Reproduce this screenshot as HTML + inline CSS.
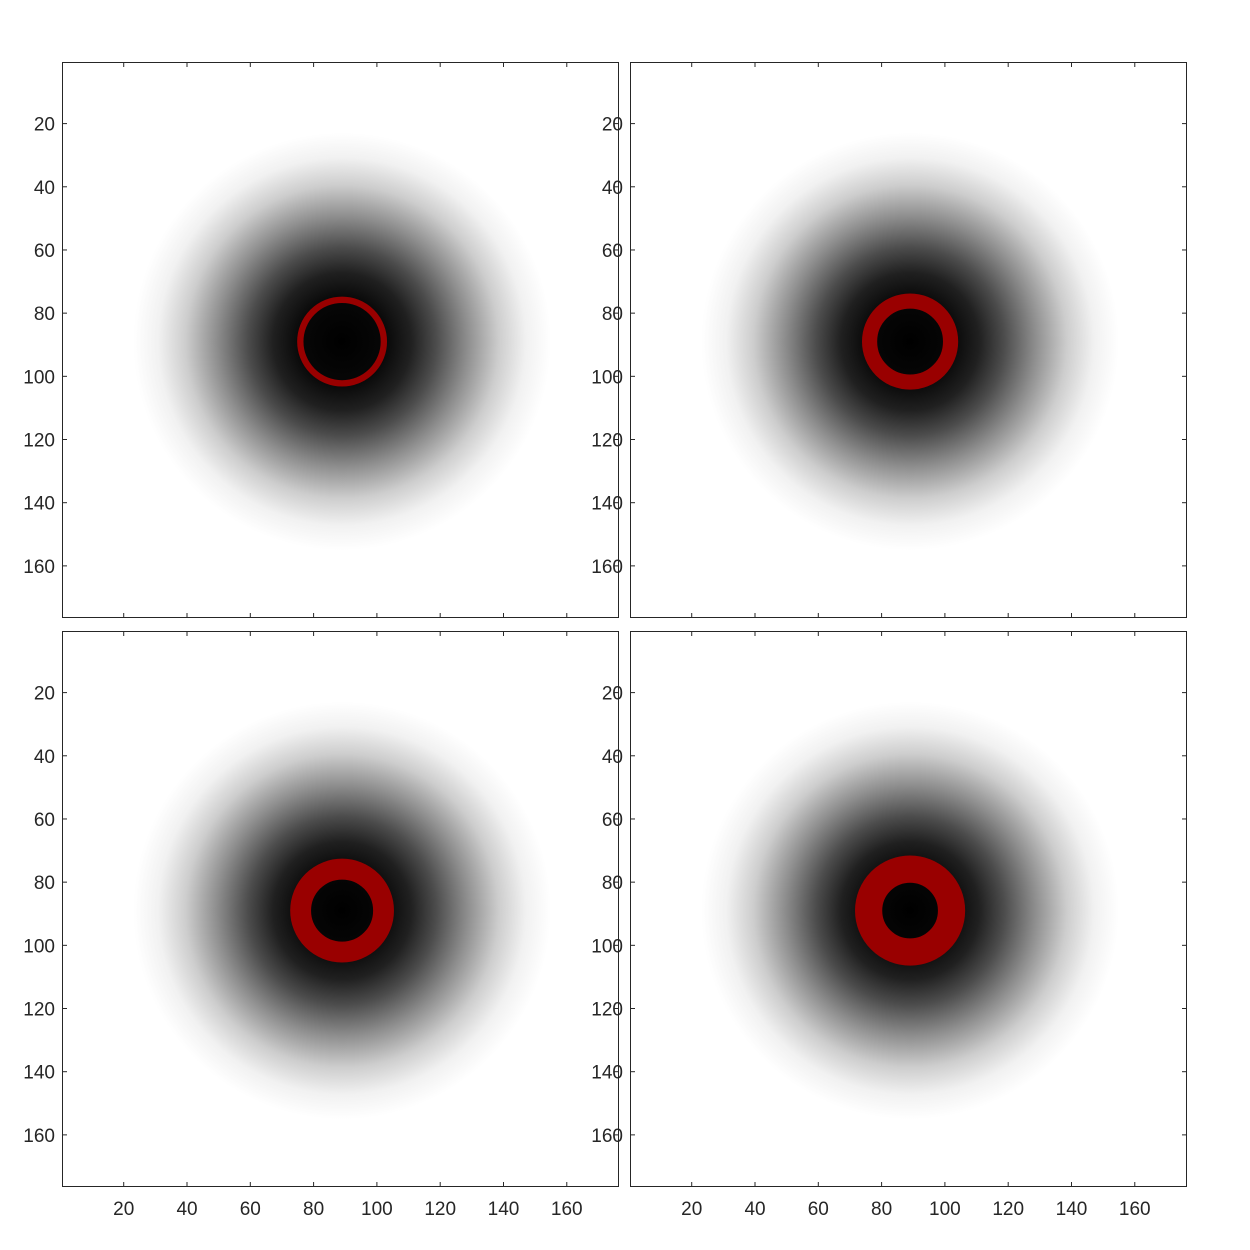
<!DOCTYPE html>
<html><head><meta charset="utf-8"><style>
html,body{margin:0;padding:0;background:#fff;}
svg{display:block;}
text{font-family:"Liberation Sans",sans-serif;font-size:19px;fill:#262626;}
</style></head><body>
<svg id="fig" width="1250" height="1250" viewBox="0 0 1250 1250" xmlns="http://www.w3.org/2000/svg">
<defs>
<radialGradient id="blob">
<stop offset="0" stop-color="#000"/>
<stop offset="0.2" stop-color="#070707"/>
<stop offset="0.33" stop-color="#202020"/>
<stop offset="0.45" stop-color="#4c4c4c"/>
<stop offset="0.6" stop-color="#8e8e8e"/>
<stop offset="0.75" stop-color="#cdcdcd"/>
<stop offset="0.88" stop-color="#f1f1f1"/>
<stop offset="1" stop-color="#fff"/>
</radialGradient>
</defs>
</svg>
<script>
const tickValues=[20,40,60,80,100,120,140,160];
const tickLabels=["20","40","60","80","100","120","140","160"];
const centerX=[89,89,89,89];
const centerY=[89,89,89,89];
const blobRadius=[66,66,66,66];
const ringInner=[12.2,10.4,9.8,8.8];
const ringOuter=[14.2,15.2,16.4,17.4];
const panels=[[62,62],[630,62],[62,631],[630,631]];
const W=557,H=556,N=176;
const svg=document.getElementById('fig');
const NS='http://www.w3.org/2000/svg';
function mk(t,a){const e=document.createElementNS(NS,t);for(const k in a)e.setAttribute(k,a[k]);return e;}
panels.forEach((p,i)=>{
  const sx=v=>p[0]+(v-0.5)*W/N, sy=v=>p[1]+(v-0.5)*H/N, su=W/N;
  const g=mk('g',{});
  
  
  svg.appendChild(g);
  const cp=mk('clipPath',{id:'c'+i});cp.appendChild(mk('rect',{x:p[0],y:p[1],width:W,height:H}));g.appendChild(cp);
  const b=mk('circle',{cx:sx(centerX[i]),cy:sy(centerY[i]),r:blobRadius[i]*su,fill:'url(#blob)','clip-path':'url(#c'+i+')'});
  
  
  g.appendChild(b);
  const rr=(ringInner[i]+ringOuter[i])/2, rw=ringOuter[i]-ringInner[i];
  const ring=mk('circle',{cx:sx(centerX[i]),cy:sy(centerY[i]),r:rr*su,fill:'none',stroke:'#990000','stroke-width':rw*su});
  
  
  g.appendChild(ring);
  const fr=mk('rect',{x:p[0]+0.5,y:p[1]+0.5,width:W-1,height:H-1,fill:'none',stroke:'#262626','stroke-width':1});
  
  
  g.appendChild(fr);
  tickValues.forEach((v,j)=>{
    const x=sx(v),y=sy(v);
    g.appendChild(mk('line',{x1:x,y1:p[1],x2:x,y2:p[1]+5,stroke:'#262626'}));
    g.appendChild(mk('line',{x1:x,y1:p[1]+H,x2:x,y2:p[1]+H-5,stroke:'#262626'}));
    g.appendChild(mk('line',{x1:p[0],y1:y,x2:p[0]+5,y2:y,stroke:'#262626'}));
    g.appendChild(mk('line',{x1:p[0]+W,y1:y,x2:p[0]+W-5,y2:y,stroke:'#262626'}));
    const yl=mk('text',{x:p[0]-7,y:y+7,'text-anchor':'end'});
    
    
    yl.textContent=tickLabels[j];g.appendChild(yl);
    if(i>=2){
      const xl=mk('text',{x:x,y:p[1]+H+28,'text-anchor':'middle'});
      
      
      xl.textContent=tickLabels[j];g.appendChild(xl);
    }
  });
});
</script>
</body></html>
